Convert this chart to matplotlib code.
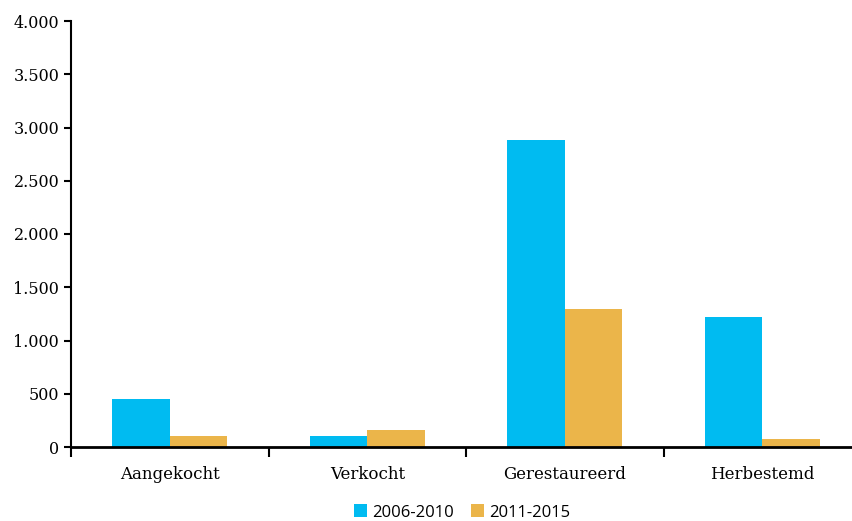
import matplotlib
matplotlib.use("Agg")
import matplotlib.pyplot as plt
import matplotlib.ticker as mticker
import numpy as np

# Data
categories = ["Aangekocht", "Verkocht", "Gerestaureerd", "Herbestemd"]
series_names = ["2006-2010", "2011-2015"]
values_2006_2010 = [450, 105, 2880, 1220]
values_2011_2015 = [105, 160, 1300, 75]

colors = ["#00BBF1", "#EBB54A"]

fig = plt.figure(figsize=(8.53, 5.21), dpi=100)
ax = fig.add_axes([71 / 853, 74 / 521, 790 / 853, 426 / 521])

x = np.arange(len(categories))
w = 0.29
ax.bar(x - w / 2, values_2006_2010, w, color=colors[0], label=series_names[0])
ax.bar(x + w / 2, values_2011_2015, w, color=colors[1], label=series_names[1])

ax.set_xlim(-0.5, len(categories) - 0.5)
ax.set_ylim(0, 4000)
ax.yaxis.set_major_locator(mticker.MultipleLocator(500))
ax.yaxis.set_major_formatter(
    mticker.FuncFormatter(lambda v, p: f"{int(v):,}".replace(",", "."))
)

# category labels between boundary ticks
ax.set_xticks(np.arange(len(categories) + 1) - 0.5)
ax.set_xticklabels([])
ax.set_xticks(x, minor=True)
ax.set_xticklabels(categories, minor=True, fontfamily="DejaVu Serif", fontsize=12)
ax.tick_params(axis="x", which="major", direction="out", length=7, width=1.5)
ax.tick_params(axis="x", which="minor", length=0, pad=14)
ax.tick_params(axis="y", direction="out", length=5, width=1.5, labelsize=11.5)
for lbl in ax.get_yticklabels():
    lbl.set_fontfamily("DejaVu Serif")

for s in ["top", "right"]:
    ax.spines[s].set_visible(False)
ax.spines["left"].set_linewidth(1.5)
ax.spines["bottom"].set_linewidth(2)

fig.legend(loc="lower center", bbox_to_anchor=(462 / 853, -0.028), ncol=2, frameon=False,
           handlelength=0.8, handleheight=0.8, handletextpad=0.3, columnspacing=1.0,
           prop={"family": "Open Sans", "size": 12})

plt.savefig("out.png", dpi=100)
